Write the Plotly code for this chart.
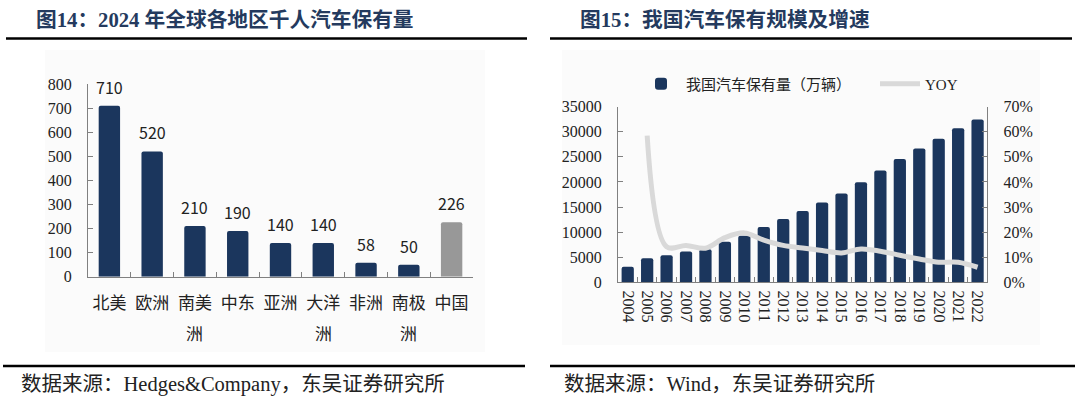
import plotly.graph_objects as go

# ---------------- data ----------------
regions = ["北美", "欧洲", "南美洲", "中东", "亚洲", "大洋洲", "非洲", "南极洲", "中国"]
cars_per_thousand = [710, 520, 210, 190, 140, 140, 58, 50, 226]
left_yticks = [0, 100, 200, 300, 400, 500, 600, 700, 800]

years = [str(y) for y in range(2004, 2023)]
car_stock = [3120, 4800, 5400, 6120, 6600, 8060, 9260, 11000, 12600, 14200,
             15920, 17720, 19920, 22260, 24600, 26660, 28600, 30720, 32460]
yoy = [None, 0.585, 0.142, 0.147, 0.136, 0.178, 0.197, 0.168, 0.147, 0.137,
       0.127, 0.117, 0.133, 0.124, 0.108, 0.093, 0.080, 0.080, 0.060]
right_yticks = [0, 5000, 10000, 15000, 20000, 25000, 30000, 35000]
pct_ticks = [0, 0.1, 0.2, 0.3, 0.4, 0.5, 0.6, 0.7]

title_left = "图14：2024 年全球各地区千人汽车保有量"
title_right = "图15：我国汽车保有规模及增速"
source_left = "数据来源：Hedges&Company，东吴证券研究所"
source_right = "数据来源：Wind，东吴证券研究所"
legend_bar = "我国汽车保有量（万辆）"
legend_line = "YOY"

# ---------------- style ----------------
W, H = 1080, 398
NAVY = "#1b365d"
GRAY_BAR = "#989898"
LINE_GRAY = "#d9d9d9"
AXIS = "#808080"
TXT = "#222222"
TITLE_C = "#243a5e"
PANEL = "#fbfbfb"
SERIF = "Liberation Serif, Noto Sans CJK SC"
SANS = "Noto Sans CJK SC"

def px_x(x):
    return x / W

def px_y(y):
    return 1 - y / H

fig = go.Figure()

bar_colors = [GRAY_BAR if r == "中国" else NAVY for r in regions]
fig.add_trace(go.Bar(x=regions, y=cars_per_thousand, marker=dict(color=bar_colors, line=dict(width=0)),
                     width=0.5, xaxis="x", yaxis="y", showlegend=False, hoverinfo="x+y"))

fig.add_trace(go.Bar(x=years, y=car_stock, name=legend_bar, marker=dict(color=NAVY, line=dict(width=0)),
                     width=0.63, xaxis="x2", yaxis="y2", legend="legend"))
fig.add_trace(go.Scatter(x=years, y=yoy, name=legend_line, mode="lines",
                         line=dict(color=LINE_GRAY, width=5, shape="spline", smoothing=1),
                         xaxis="x2", yaxis="y3", connectgaps=False, legend="legend2"))

axis_common = dict(showline=True, linecolor=AXIS, linewidth=1, showgrid=False, zeroline=False,
                   ticks="inside", ticklen=5, tickcolor=AXIS, tickwidth=1)

legend_common = dict(orientation="h", xanchor="left", yanchor="middle",
                     font=dict(family=SERIF, size=15, color=TXT), bgcolor="rgba(0,0,0,0)",
                     itemwidth=40)

fig.update_layout(
    width=W, height=H, margin=dict(l=0, r=0, t=0, b=0, autoexpand=False),
    paper_bgcolor="white", plot_bgcolor="rgba(0,0,0,0)",
    barcornerradius=2,
    xaxis=dict(domain=[px_x(88), px_x(473)], anchor="y", type="category",
               tickmode="array", tickvals=regions, ticktext=[r[:2] for r in regions],
               tickangle=0, tickson="boundaries", tickfont=dict(family=SANS, size=17, color=TXT),
               ticklabelstandoff=11, **axis_common),
    yaxis=dict(domain=[px_y(276.7), px_y(84)], anchor="x", range=[0, 800],
               tickvals=left_yticks, tickfont=dict(family=SERIF, size=16, color=TXT),
               ticklabelstandoff=12, **axis_common),
    xaxis2=dict(domain=[px_x(618), px_x(987.3)], anchor="y2", type="category",
                tickmode="array", tickvals=years, ticktext=years,
                tickson="boundaries", tickangle=90,
                tickfont=dict(family=SERIF, size=16, color=TXT), ticklabelstandoff=4, **axis_common),
    yaxis2=dict(domain=[px_y(282.3), px_y(106.7)], anchor="x2", range=[0, 35000],
                tickvals=right_yticks, tickformat="d", tickfont=dict(family=SERIF, size=16, color=TXT),
                ticklabelstandoff=12, **axis_common),
    yaxis3=dict(overlaying="y2", side="right", anchor="x2", range=[0, 0.7],
                tickvals=pct_ticks, tickformat=".0%", tickfont=dict(family=SERIF, size=16, color=TXT),
                ticklabelstandoff=12, **axis_common),
    legend=dict(x=px_x(636), y=px_y(84), **legend_common),
    legend2=dict(x=px_x(875), y=px_y(84), **legend_common),
    showlegend=True,
)

shapes = []
# panel backgrounds
shapes.append(dict(type="rect", xref="paper", yref="paper", x0=px_x(45), x1=px_x(485),
                   y0=px_y(352), y1=px_y(50), fillcolor=PANEL, line=dict(width=0), layer="below"))
shapes.append(dict(type="rect", xref="paper", yref="paper", x0=px_x(562), x1=px_x(1040),
                   y0=px_y(345), y1=px_y(50), fillcolor=PANEL, line=dict(width=0), layer="below"))
# header / footer rules
for x0, x1, y in [(6, 527, 38.5), (550, 1072, 38.5), (3, 525, 366), (550, 1075, 366)]:
    shapes.append(dict(type="line", xref="paper", yref="paper", x0=px_x(x0), x1=px_x(x1),
                       y0=px_y(y), y1=px_y(y), line=dict(color="black", width=2.5)))
fig.update_layout(shapes=shapes)

ann = []
ann.append(dict(text="<b>" + title_left + "</b>", xref="paper", yref="paper", x=px_x(34), y=px_y(19),
                xanchor="left", yanchor="middle", showarrow=False,
                font=dict(family=SERIF, size=20.7, color=TITLE_C)))
ann.append(dict(text="<b>" + title_right + "</b>", xref="paper", yref="paper", x=px_x(578), y=px_y(19),
                xanchor="left", yanchor="middle", showarrow=False,
                font=dict(family=SERIF, size=20.7, color=TITLE_C)))
ann.append(dict(text=source_left, xref="paper", yref="paper", x=px_x(19), y=px_y(384),
                xanchor="left", yanchor="middle", showarrow=False,
                font=dict(family=SERIF, size=20.5, color=TXT)))
ann.append(dict(text=source_right, xref="paper", yref="paper", x=px_x(562), y=px_y(384),
                xanchor="left", yanchor="middle", showarrow=False,
                font=dict(family=SERIF, size=20.5, color=TXT)))
# value labels on left bars
for r, v in zip(regions, cars_per_thousand):
    ann.append(dict(text=str(v), x=r, y=v, xref="x", yref="y", xanchor="center", yanchor="bottom",
                    yshift=5, showarrow=False, font=dict(family=SANS, size=16, color=TXT)))
# second line of wrapped category labels
for r in regions:
    if len(r) > 2:
        ann.append(dict(text=r[2:], x=r, xref="x", yref="paper", y=px_y(332), xanchor="center",
                        yanchor="middle", showarrow=False, font=dict(family=SANS, size=17, color=TXT)))
fig.update_layout(annotations=ann)

post = ("document.documentElement.style.margin='0';document.documentElement.style.padding='0';"
        "document.body.style.margin='0';document.body.style.padding='0';"
        "document.documentElement.style.overflow='hidden';document.body.style.overflow='hidden';")
fig.write_html("out.html", post_script=post, config={"displayModeBar": False})
